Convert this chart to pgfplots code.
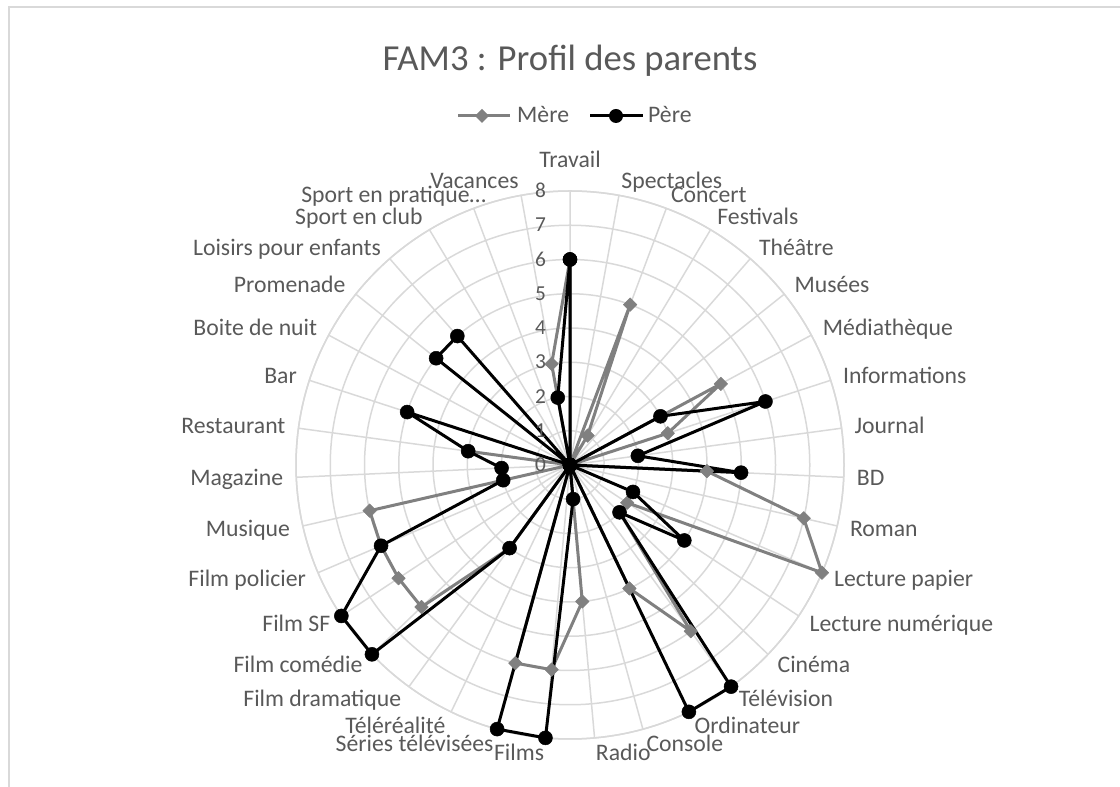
\documentclass[border=0pt]{standalone}
\usepackage{pgfplots}
\pgfplotsset{compat=1.18}
\usepgfplotslibrary{polar}
\usepackage{pgfplotstable}
\usepackage{fontspec}
\setmainfont{Carlito}
\definecolor{txt}{HTML}{595959}
\definecolor{gridc}{HTML}{D9D9D9}
\definecolor{mere}{HTML}{808080}

% i = category index (clockwise from top), M = Mère, P = Père
\pgfplotstableread{
i M P
0 6 6
1 0 0
2 5 0
3 1 0
4 0 0
5 0 0
6 5 3
7 3 6
8 0 2
9 4 5
10 7 0
11 8 2
12 2 4
13 2 2
14 6 8
15 4 8
16 0 0
17 4 1
18 6 8
19 6 8
20 0 0
21 3 3
22 6 8
23 6 8
24 6 6
25 6 2
26 0 2
27 3 3
28 0 5
29 0 0
30 0 5
31 0 5
32 0 0
33 0 0
34 3 2
35 6 6
}\profil

\begin{document}
\begin{tikzpicture}[x=1bp,y=1bp]
\path[use as bounding box] (0,0) rectangle (1120,787);
\draw[gridc, line width=1.5] (9,0) -- (9,780) -- (1120,780);

\node[font=\fontsize{36.8}{40}\selectfont, text=txt, anchor=base] at (570,716) {FAM3 : Profil des parents};

% legend
\draw[mere, line width=3] (458,671) -- (510,671);
\path[fill=mere] (482,678) -- (489,671) -- (482,664) -- (475,671) -- cycle;
\node[font=\fontsize{23.8}{28}\selectfont, text=txt, anchor=base west, inner sep=0] at (517,664) {Mère};
\draw[black, line width=3] (590,671) -- (643,671);
\fill[black] (616,671) circle (7);
\node[font=\fontsize{23.8}{28}\selectfont, text=txt, anchor=base west, inner sep=0] at (648,664) {Père};

\begin{polaraxis}[
  at={(570bp,322bp)}, anchor=center,
  width=548bp, height=548bp, scale only axis,
  ymin=0, ymax=8, ytick={0,...,8}, yticklabels={},
  xtick={7.714286,18,...,357.5}, xticklabels={},
  grid=major, major grid style={draw=gridc, line width=1.5bp},
  axis line style={draw=gridc, line width=1.5bp},
  y axis line style={draw=none},
  xtick style={draw=none}, ytick style={draw=none},
  clip=false,
]
\addplot[mere, line width=3bp, line join=round, mark=square*, mark size=4.8bp,
  mark options={rotate=45, fill=mere, draw=mere, line width=0.5bp}]
  table[x expr={90-\thisrow{i}*360/35}, y=M] {\profil};
\addplot[black, line width=3bp, line join=round, mark=*, mark size=7bp,
  mark options={fill=black, draw=black, line width=0.5bp}]
  table[x expr={90-\thisrow{i}*360/35}, y=P] {\profil};
\end{polaraxis}

% value labels
\foreach \v in {0,...,8} {
  \node[font=\fontsize{21.4}{24}\selectfont, text=txt, anchor=east, inner sep=0,
    text height=13.5bp, text depth=0pt] at (546,322+34.25*\v) {\v};
}

% category labels
\foreach \name [count=\k from 0] in {Travail,Spectacles,Concert,Festivals,Théâtre,Musées,Médiathèque,Informations,Journal,BD,Roman,Lecture papier,Lecture numérique,Cinéma,Télévision,Ordinateur,Console,Radio,Films,Séries télévisées,Téléréalité,Film dramatique,Film comédie,Film SF,Film policier,Musique,Magazine,Restaurant,Bar,Boite de nuit,Promenade,Loisirs pour enfants,Sport en club,Sport en pratique…,Vacances} {
  \pgfmathsetmacro\ang{90-\k*360/35}
  \pgfmathsetmacro\cx{cos(\ang)}
  \pgfmathsetmacro\sx{sin(\ang)}
  \pgfmathsetmacro\px{570+287*\cx}
  \pgfmathsetmacro\py{322+274*\sx+15*\sx}
  \ifdim \cx pt > 0.02pt \def\anc{west}\else\ifdim \cx pt < -0.02pt \def\anc{east}\else\def\anc{south}\fi\fi
  \ifnum\k=0 \pgfmathsetmacro\py{\py+8}\fi
  \ifnum\k=33 \pgfmathsetmacro\px{\px+17}\fi
  \node[font=\fontsize{23.8}{28}\selectfont, text=txt, anchor=\anc, inner sep=0,
    text height=15.3bp, text depth=0pt] at (\px,\py) {\name};
}
\end{tikzpicture}
\end{document}
